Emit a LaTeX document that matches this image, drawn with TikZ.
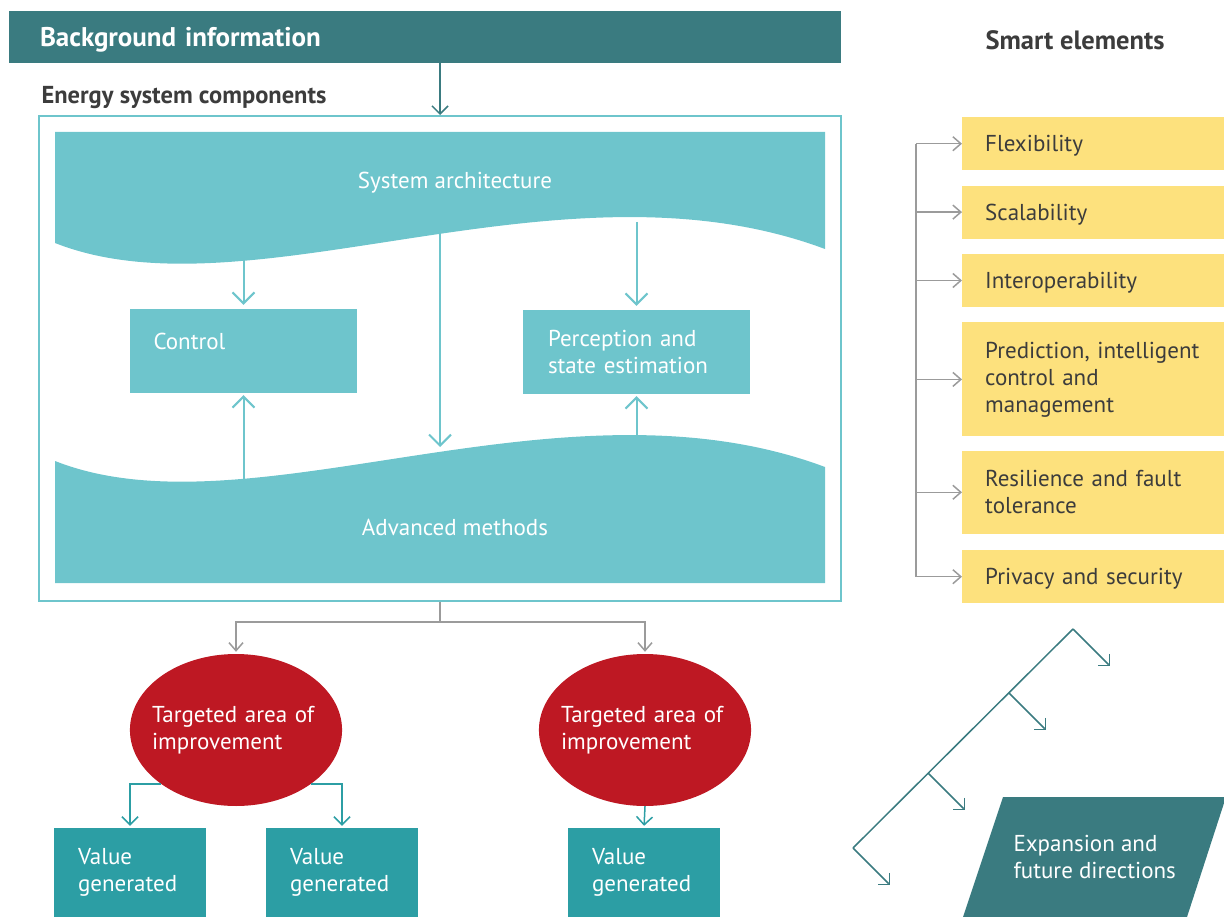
\documentclass[tikz,border=0pt]{standalone}
\usepackage{fontspec}
\setmainfont{PT Sans}
\usetikzlibrary{arrows.meta,shapes.geometric,positioning}

\definecolor{bardark}{HTML}{3A7B80}
\definecolor{tealsoft}{HTML}{6EC5CC}
\definecolor{tealvalue}{HTML}{2C9EA4}
\definecolor{redarea}{HTML}{BE1823}
\definecolor{yellowsmart}{HTML}{FDE17D}
\definecolor{linegray}{HTML}{9B9B9B}
\definecolor{textdark}{HTML}{3C3C3C}

\tikzset{
    lbl/.style={text=white, font=\fontsize{23}{27}\selectfont, align=left},
    oneline/.style={text depth=0},
    title/.style={text=textdark, font=\bfseries\fontsize{24.5}{28}\selectfont},
    cbox/.style={fill=tealsoft, minimum width=227, minimum height=84, inner sep=0},
    vbox/.style={lbl, fill=tealvalue, minimum width=152, minimum height=89,
        text width=104, inner xsep=24, inner ysep=0},
    area/.style={lbl, ellipse, fill=redarea, minimum width=212, minimum height=152,
        text width=168, inner xsep=-9, inner ysep=0},
    smartbox/.style={lbl, text=textdark, fill=yellowsmart, anchor=north west,
        minimum height=53, text width=232, inner xsep=23, inner ysep=0},
    tarrow/.style={draw=tealsoft, line width=2,
        -{Straight Barb[length=11pt, width=22pt, line width=2pt]}},
    varrow/.style={draw=tealvalue, line width=1.5,
        -{Straight Barb[length=8pt, width=16pt, line width=1.5pt]}},
    gline/.style={draw=linegray, line width=1.5},
    garrow/.style={gline, -{Straight Barb[length=8pt, width=14pt, line width=1.5pt]}},
    dline/.style={draw=bardark, line width=1.5},
    darrow/.style={dline, -{Straight Barb[length=8pt, width=16pt, line width=1.5pt]}},
}

\begin{document}
\begin{tikzpicture}[x=1pt, y=-1pt]
    \useasboundingbox (0,0) rectangle (1224,917);

    % header and frame
    \node[fill=bardark, text=white, font=\bfseries\fontsize{27}{30}\selectfont,
        minimum width=832, minimum height=52, text width=770, inner xsep=31,
        inner ysep=0, oneline, align=left] (bg) at (425,37) {Background information};
    \node[title, anchor=west] (esc) at (38,98) {Energy system components};
    \node[draw=tealsoft, line width=2, minimum width=802, minimum height=485,
        inner sep=0] (frame) at (440,358.5) {};
    \draw[dline, -{Straight Barb[length=8pt, width=16pt, line width=1.5pt]}]
        (frame.north |- bg.south) -- (frame.north);

    % system architecture and advanced methods
    \fill[tealsoft] (55,132) -- (825,132) -- (825,249)
        .. controls (560,150) and (250,320) .. (55,243) -- cycle;
    \fill[tealsoft] (55,461) .. controls (250,538) and (560,368) .. (825,467)
        -- (825,583) -- (55,583) -- cycle;
    \node[lbl] (sysarch) at (455,183) {System architecture};
    \node[lbl] (advm) at (455,527) {Advanced methods};

    \node[cbox] (ctrl) at (243.5,351) {};
    \node[lbl, anchor=west] (ctrltext) at (150,341) {Control};
    \node[cbox, lbl, text width=177, inner xsep=25] (perc) at (636.5,352)
        {Perception and\\state estimation};

    \coordinate (archbot) at (440,232);
    \coordinate (methtop) at (440,447);
    \draw[tarrow, shorten >=4] (ctrl.north |- 0,258) -- (ctrl.north);
    \draw[tarrow] (archbot) -- (methtop);
    \draw[tarrow, shorten >=4] (perc.north |- 0,222) -- (perc.north);
    \draw[tarrow, shorten >=2] (ctrl.south |- 0,484) -- (ctrl.south);
    \draw[tarrow, shorten >=2] (perc.south |- 0,440) -- (perc.south);

    % targeted areas and values
    \node[area] (area1) at (236,730) {Targeted area of\\improvement};
    \node[area] (area2) at (645,730) {Targeted area of\\improvement};
    \node[vbox] (val1) at (130,872.5) {Value\\generated};
    \node[vbox] (val2) at (342,872.5) {Value\\generated};
    \node[vbox] (val3) at (644,872.5) {Value\\generated};

    \coordinate (split) at (440,622);
    \draw[gline] (frame.south) -- (split);
    \draw[garrow, shorten >=2] (split) -| (area1.north);
    \draw[garrow, shorten >=2] (split) -| (area2.north);
    \draw[varrow, shorten >=2] (area1.south west) -| (val1.north);
    \draw[varrow, shorten >=2] (area1.south east) -| (val2.north);
    \draw[varrow, shorten >=2] (area2.south) -- (val3.north);

    % smart elements
    \node[title, font=\bfseries\fontsize{26.5}{30}\selectfont] (smart) at (1075,40) {Smart elements};
    \node[smartbox, oneline] (flex) at (962,117) {Flexibility};
    \node[smartbox, oneline, below=15pt of flex.south west, anchor=north west] (scal) {Scalability};
    \node[smartbox, oneline, below=15pt of scal.south west, anchor=north west] (inter) {Interoperability};
    \node[smartbox, minimum height=114, below=15pt of inter.south west, anchor=north west]
        (pred) {Prediction, intelligent\\control and\\management};
    \node[smartbox, minimum height=83, below=14pt of pred.south west, anchor=north west]
        (resil) {Resilience and fault\\tolerance};
    \node[smartbox, oneline, below=16pt of resil.south west, anchor=north west] (priv) {Privacy and security};

    \coordinate (trunk) at (916,0);
    \draw[gline] (trunk |- flex.west) -- (trunk |- priv.west);
    \foreach \b in {flex,scal,inter,pred,resil,priv}
        \draw[garrow] (trunk |- \b.west) -- (\b.west);

    % expansion
    \coordinate (d0) at (853,848);
    \coordinate (d1) at (928,773);
    \coordinate (d2) at (1009,693);
    \coordinate (d3) at (1073,629);
    \draw[dline] (d0) -- (d3);
    \foreach \p in {d0,d1,d2,d3}
        \draw[darrow] (\p) -- ++(37,37);

    \fill[bardark] (1003,797) -- (1226,797) -- (1187,917) -- (963,917) -- cycle;
    \node[lbl, anchor=west] (expand) at (1010,857) {Expansion and\\future directions};
\end{tikzpicture}
\end{document}
